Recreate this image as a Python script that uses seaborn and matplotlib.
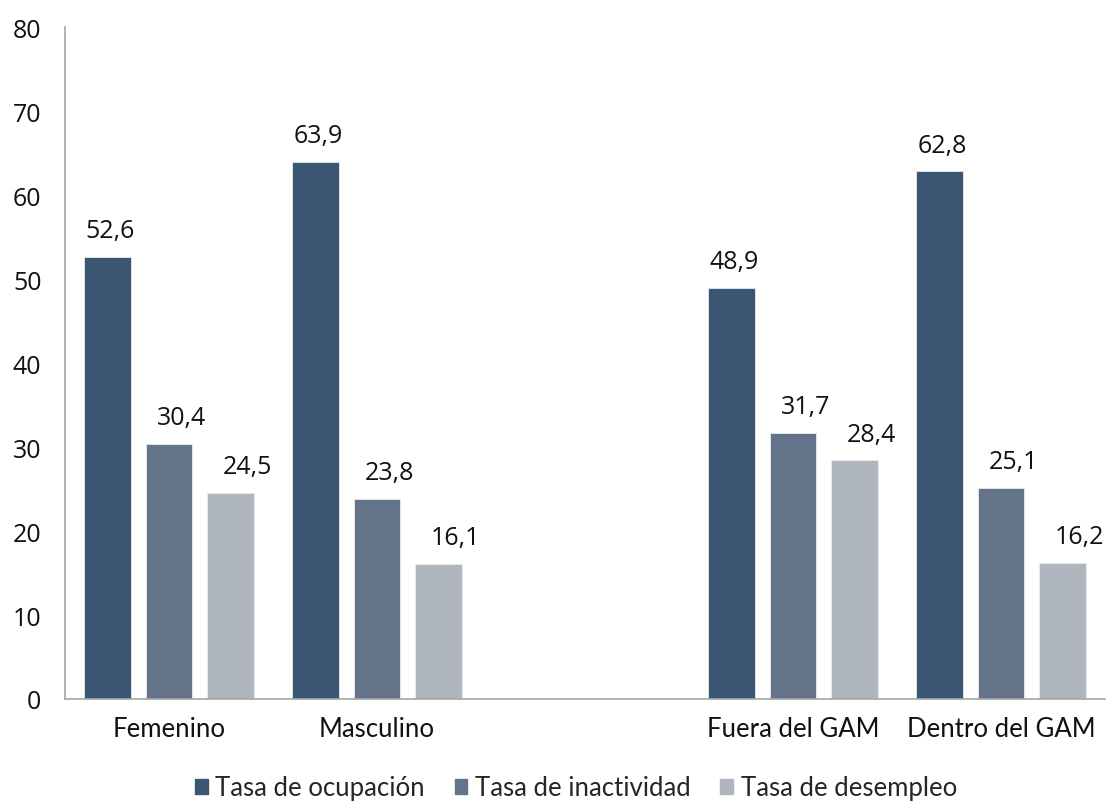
import matplotlib
matplotlib.use("Agg")
import matplotlib.pyplot as plt
import seaborn as sns
import pandas as pd

# Datos
categorias = ["Femenino", "Masculino", " ", "Fuera del GAM", "Dentro del GAM"]
series = ["Tasa de ocupación", "Tasa de inactividad", "Tasa de desempleo"]
ocupacion = [52.6, 63.9, None, 48.9, 62.8]
inactividad = [30.4, 23.8, None, 31.7, 25.1]
desempleo = [24.5, 16.1, None, 28.4, 16.2]
colores = ["#3A5673", "#637389", "#B0B6BE"]

filas = []
for serie, valores in zip(series, [ocupacion, inactividad, desempleo]):
    for cat, v in zip(categorias, valores):
        if v is not None:
            filas.append({"cat": cat, "serie": serie, "valor": v})
df = pd.DataFrame(filas)

sns.set_style("white")
num_font = ["Open Sans", "DejaVu Sans"]
txt_font = ["Lato", "DejaVu Sans"]
plt.rcParams["font.family"] = num_font

fig = plt.figure(figsize=(11.09, 8.04), dpi=100)
ax = fig.add_axes([65 / 1109, 1 - 700 / 804, 1040 / 1109, 672 / 804])

sns.barplot(data=df, x="cat", y="valor", hue="serie", order=categorias,
            hue_order=series, palette=colores, saturation=1,
            width=0.887, gap=0.236,
            edgecolor="#E8ECF0", linewidth=0.6, ax=ax)

# Etiquetas de valores
desplaz = [2, 9, 12]
for cont, dx in zip(ax.containers, desplaz):
    for barra in cont:
        h = barra.get_height()
        if h != h or h == 0:
            continue
        ax.annotate(f"{h:.1f}".replace(".", ","),
                    (barra.get_x() + barra.get_width() / 2, h),
                    xytext=(dx, 10), textcoords="offset points",
                    ha="center", va="bottom", fontsize=18,
                    family=num_font, color="#111111")

ax.set_ylim(0, 80)
ax.set_xlim(-0.5, len(categorias) - 0.5)
ax.set_yticks(range(0, 81, 10))
ax.tick_params(axis="y", labelsize=18, length=0, pad=17, colors="#111111")
ax.tick_params(axis="x", length=0, pad=12)
for lab in ax.get_yticklabels():
    lab.set_fontfamily(num_font)
for lab in ax.get_xticklabels():
    lab.set_fontfamily(txt_font)
    lab.set_fontsize(18.5)
    lab.set_color("#111111")
ax.set_xlabel("")
ax.set_ylabel("")

sns.despine(ax=ax)
for lado in ["left", "bottom"]:
    ax.spines[lado].set_color("#A6A6A6")
    ax.spines[lado].set_linewidth(1.2)

ax.legend_.remove()
handles = [plt.Rectangle((0, 0), 1, 1, color=c) for c in colores]
fig.legend(handles, series, loc="center", bbox_to_anchor=(576 / 1109, 1 - 789 / 804),
           ncol=3, frameon=False, handlelength=0.5, handleheight=0.5,
           handletextpad=0.3, columnspacing=1.15,
           prop={"family": txt_font, "size": 18.5})

fig.savefig("out.png", dpi=100)
